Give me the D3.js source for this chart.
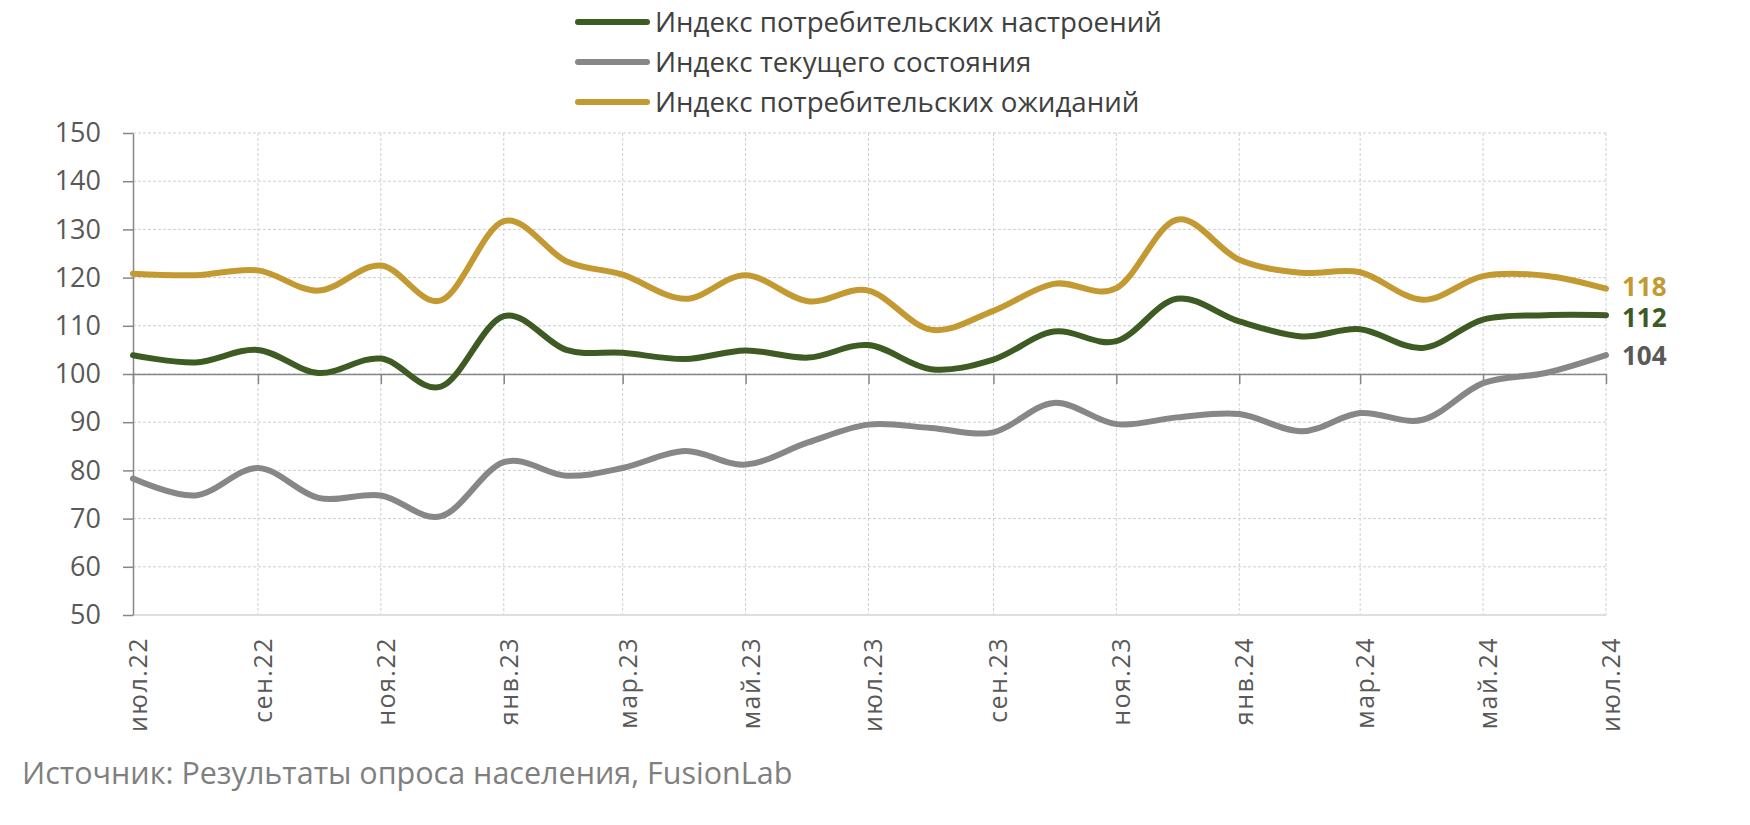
<!DOCTYPE html>
<html><head><meta charset="utf-8">
<script src="https://cdn.jsdelivr.net/npm/d3@7/dist/d3.min.js"></script>
<style>body{margin:0;background:#fff}svg{display:block}text{font-family:"Open Sans",sans-serif}</style>
</head><body><svg id="c" width="1750" height="825"></svg>
<script>
const months = ["2022-07","2022-08","2022-09","2022-10","2022-11","2022-12","2023-01","2023-02","2023-03","2023-04","2023-05","2023-06","2023-07","2023-08","2023-09","2023-10","2023-11","2023-12","2024-01","2024-02","2024-03","2024-04","2024-05","2024-06","2024-07"];
const sentiment = [103.9,102.4,105,100.2,103.2,97.4,112,105,104.4,103.1,104.9,103.4,106,101,103,108.8,106.8,115.6,110.9,107.8,109.3,105.4,111.3,112.2,112.2];
const current = [78.3,74.8,80.5,74.3,74.8,70.5,81.7,78.9,80.5,84,81.2,85.8,89.5,88.8,87.9,94,89.6,91,91.7,88.1,91.9,90.5,98.1,100.2,103.9];
const expectations = [120.8,120.5,121.5,117.3,122.5,115.3,131.7,123.4,120.6,115.6,120.5,115.1,117.3,109.2,113.1,118.7,117.8,132,123.7,121,121.1,115.4,120.3,120.4,117.7];
const seriesNames = ["Индекс потребительских настроений","Индекс текущего состояния","Индекс потребительских ожиданий"];
const endLabels = ["112","104","118"];
const yTicks = [50,60,70,80,90,100,110,120,130,140,150];
const monthAbbr = ["янв","фев","мар","апр","май","июн","июл","авг","сен","окт","ноя","дек"];
const sourceText = "Источник: Результаты опроса населения, FusionLab";

const colors = ["#3e5b24","#878787","#c39a31"];
const labelColors = ["#3e5b24","#595959","#c39a31"];
const labelNudge = [2,0,-2];

const svg = d3.select("#c");
const parse = d3.timeParse("%Y-%m");
const dates = months.map(parse);
const x = d3.scaleTime().domain([dates[0], dates[dates.length-1]]).range([133,1606]);
const y = d3.scaleLinear().domain([50,150]).range([615,133]);
const xTickDates = dates.filter((d,i)=>i%2===0);

// gridlines
const g = svg.append("g");
g.selectAll(".hg").data(yTicks.filter(v=>v>50)).join("line")
  .attr("x1",133).attr("x2",1606).attr("y1",d=>y(d)).attr("y2",d=>y(d))
  .attr("stroke","#cfcfcf").attr("stroke-width",1).attr("stroke-dasharray","3,2");
g.selectAll(".vg").data(xTickDates.slice(1)).join("line")
  .attr("x1",d=>x(d)).attr("x2",d=>x(d)).attr("y1",133).attr("y2",615)
  .attr("stroke","#cfcfcf").attr("stroke-width",1).attr("stroke-dasharray","3,2");
g.append("line").attr("x1",133).attr("x2",1606).attr("y1",y(50)).attr("y2",y(50))
  .attr("stroke","#dedede").attr("stroke-width",2);

// y axis
const yAxis = svg.append("g").attr("transform","translate(133,0)")
  .call(d3.axisLeft(y).tickValues(yTicks).tickSize(10).tickPadding(22).tickSizeOuter(0));
yAxis.select(".domain").attr("stroke","#878787").attr("stroke-width",1.5);
yAxis.selectAll(".tick line").attr("stroke","#878787").attr("stroke-width",1.5);
yAxis.selectAll("text").attr("font-size",27).attr("fill","#595959").attr("font-family","Open Sans");

// x axis at 100
const xAxis = svg.append("g").attr("transform",`translate(0,${y(100)})`)
  .call(d3.axisBottom(x).tickValues(xTickDates).tickSize(10).tickFormat("").tickSizeOuter(0));
xAxis.select(".domain").attr("stroke","#878787").attr("stroke-width",1.5);
xAxis.selectAll(".tick line").attr("stroke","#878787").attr("stroke-width",1.5);

// x labels
svg.append("g").selectAll("text").data(xTickDates).join("text")
  .attr("transform",d=>`translate(${x(d)+5},637) rotate(-90)`)
  .attr("text-anchor","end").attr("dy","0.36em")
  .attr("font-size",25).attr("letter-spacing","1.5px").attr("fill","#595959")
  .text(d=>monthAbbr[d.getMonth()]+"."+String(d.getFullYear()).slice(2));

// lines
const all = [sentiment,current,expectations];
const line = d3.line().x((d,i)=>x(dates[i])).y(d=>y(d)).curve(d3.curveCardinal.tension(0));
[1,0,2].forEach(k=>{
  svg.append("path").datum(all[k]).attr("d",line).attr("fill","none")
    .attr("stroke",colors[k]).attr("stroke-width",6).attr("stroke-linecap","round").attr("stroke-linejoin","round");
});

// end labels
all.forEach((s,k)=>{
  svg.append("text").attr("x",x(dates[dates.length-1])+16).attr("y",y(s[s.length-1])+labelNudge[k])
    .attr("dy","0.36em").attr("font-size",26).attr("font-weight",700)
    .attr("fill",labelColors[k]).text(endLabels[k]);
});

// legend
const legY = [22,62,102];
seriesNames.forEach((n,k)=>{
  svg.append("line").attr("x1",578).attr("x2",647).attr("y1",legY[k]).attr("y2",legY[k])
    .attr("stroke",colors[k]).attr("stroke-width",6).attr("stroke-linecap","round");
  svg.append("text").attr("x",655).attr("y",legY[k]).attr("dy","0.36em")
    .attr("font-size",27.7).attr("fill","#404040").text(n);
});

// source
svg.append("text").attr("x",22).attr("y",773).attr("dy","0.36em")
  .attr("font-size",30.5).attr("fill","#7f7f7f").text(sourceText);
</script></body></html>
